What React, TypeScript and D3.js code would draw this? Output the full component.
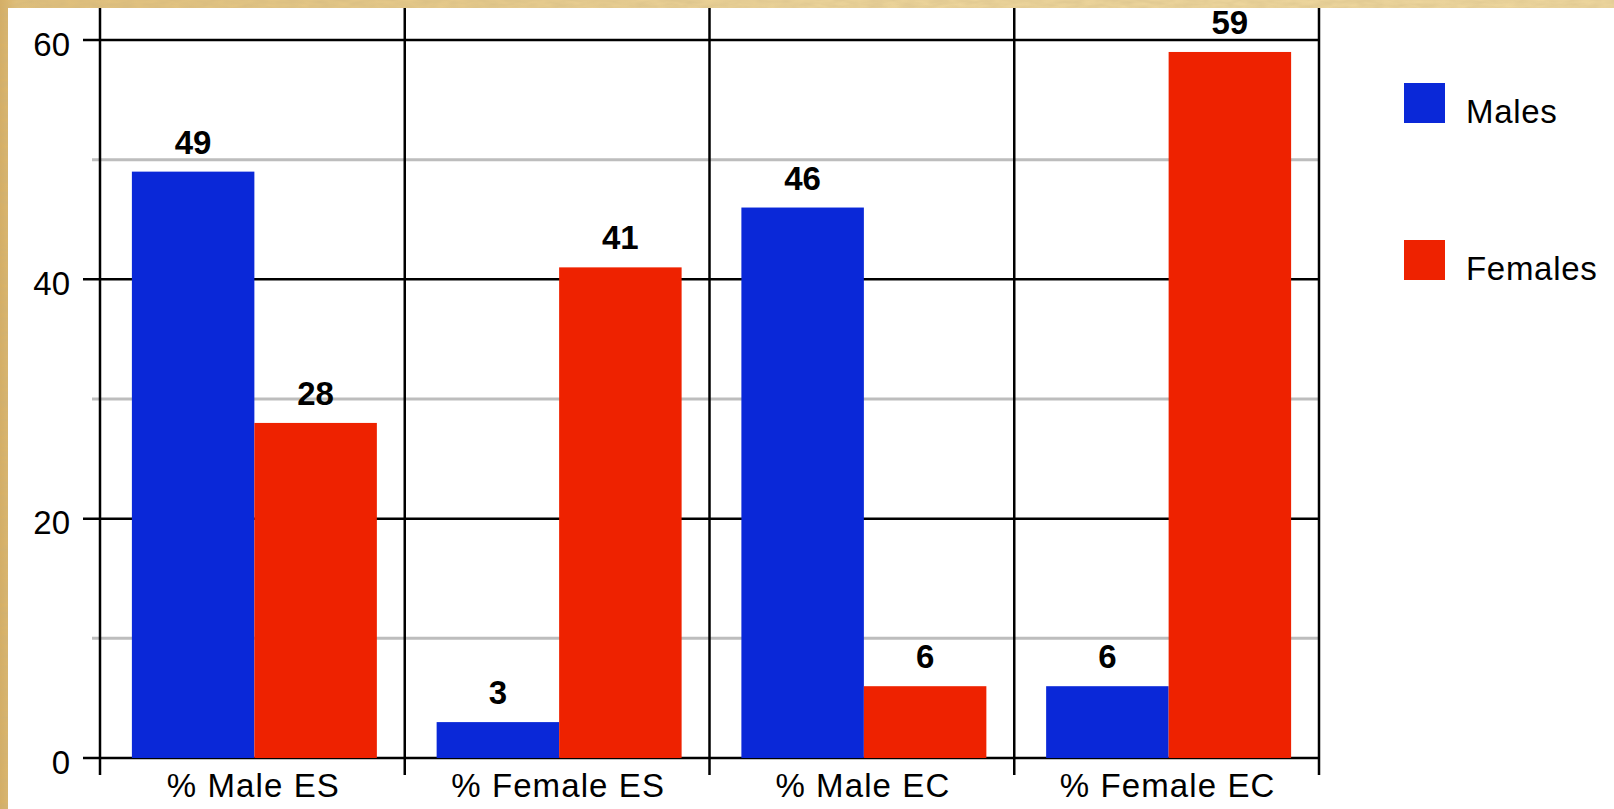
import React from "react";
import * as d3 from "d3";

// Survey percentages per category, split by respondent sex
const categories = ["% Male ES", "% Female ES", "% Male EC", "% Female EC"];
const seriesNames = ["Males", "Females"];
const malesValues = [49, 3, 46, 6];
const femalesValues = [28, 41, 6, 59];
const majorTicks = [0, 20, 40, 60];
const minorTicks = [10, 30, 50];

const W = 1614;
const H = 809;
const FONT = "'Liberation Sans', Arial, Helvetica, sans-serif";
const COLORS: Record<string, string> = { Males: "#0a28d8", Females: "#ee2200" };

export default function App() {
  const x = d3.scaleBand<string>().domain(categories).range([100, 1319]).padding(0);
  const inner = d3
    .scaleBand<string>()
    .domain(seriesNames)
    .range([0, x.bandwidth()])
    .paddingInner(0)
    .paddingOuter(0.244);
  const y = d3.scaleLinear().domain([0, 60]).range([758, 40]);

  const valuesBySeries: Record<string, number[]> = {
    Males: malesValues,
    Females: femalesValues,
  };

  const bars = categories.flatMap((c, i) =>
    seriesNames.map((s) => ({ cat: c, series: s, value: valuesBySeries[s][i] }))
  );

  const top = 8;
  const axisBottom = 775;
  const plotRight = 1319;
  const groupShift = 2; // bar groups sit slightly right of the band centre

  return (
    <>
      <style>{`html,body{margin:0;padding:0;overflow:hidden;}`}</style>
      <svg width={W} height={H} style={{ display: "block" }}>
        <defs>
          <linearGradient id="parch" x1="0" y1="0" x2="1" y2="0">
            <stop offset="0" stopColor="#d6ae62" />
            <stop offset="0.01" stopColor="#e0bf7a" />
            <stop offset="0.5" stopColor="#ecd49a" />
            <stop offset="1" stopColor="#eed79e" />
          </linearGradient>
          <filter id="grain" x="0" y="0" width="100%" height="100%">
            <feTurbulence type="fractalNoise" baseFrequency="0.06 0.25" numOctaves="3" seed="4" result="n" />
            <feColorMatrix
              in="n"
              type="matrix"
              values="0 0 0 0 0.55  0 0 0 0 0.42  0 0 0 0 0.2  0 0 0 0.45 -0.05"
              result="tint"
            />
            <feComposite in="tint" in2="SourceGraphic" operator="atop" />
          </filter>
        </defs>

        {/* parchment backdrop */}
        <rect x={0} y={0} width={W} height={H} fill="url(#parch)" filter="url(#grain)" />
        {/* white chart sheet */}
        <rect x={top} y={top} width={W} height={H} fill="#ffffff" />

        {/* minor gridlines */}
        {minorTicks.map((t) => (
          <line
            key={"mi" + t}
            x1={92}
            x2={plotRight}
            y1={y(t)}
            y2={y(t)}
            stroke="#bdbdbd"
            strokeWidth={3}
          />
        ))}
        {/* major gridlines */}
        {majorTicks.map((t) => (
          <line
            key={"ma" + t}
            x1={83}
            x2={plotRight}
            y1={y(t)}
            y2={y(t)}
            stroke="#000"
            strokeWidth={2.5}
          />
        ))}

        {/* category separators */}
        {[...categories.map((c) => x(c) as number), plotRight].map((px, i) => (
          <line key={"sep" + i} x1={px} x2={px} y1={top} y2={axisBottom} stroke="#000" strokeWidth={2.5} />
        ))}

        {/* bars */}
        {bars.map((b) => {
          const bx = (x(b.cat) as number) + (inner(b.series) as number) + groupShift;
          return (
            <rect
              key={b.cat + b.series}
              x={bx}
              y={y(b.value)}
              width={inner.bandwidth()}
              height={y(0) - y(b.value)}
              fill={COLORS[b.series]}
            />
          );
        })}

        {/* value labels */}
        {bars.map((b) => {
          const cx =
            (x(b.cat) as number) + (inner(b.series) as number) + inner.bandwidth() / 2 + groupShift;
          return (
            <text
              key={"v" + b.cat + b.series}
              x={cx}
              y={y(b.value) - 18}
              textAnchor="middle"
              fontFamily={FONT}
              fontWeight="bold"
              fontSize={33}
              fill="#000"
            >
              {b.value}
            </text>
          );
        })}

        {/* y-axis labels */}
        {majorTicks.map((t) => (
          <text
            key={"yl" + t}
            x={70}
            y={y(t) + 15.5}
            textAnchor="end"
            fontFamily={FONT}
            fontSize={33}
            fill="#000"
          >
            {t}
          </text>
        ))}

        {/* x-axis labels */}
        {categories.map((c) => (
          <text
            key={"xl" + c}
            x={(x(c) as number) + x.bandwidth() / 2 + 1}
            y={797}
            textAnchor="middle"
            fontFamily={FONT}
            fontSize={33}
            letterSpacing={1.1}
            fill="#000"
          >
            {c}
          </text>
        ))}

        {/* legend */}
        {seriesNames.map((s, i) => (
          <g key={"lg" + s} transform={`translate(1404, ${83 + i * 157})`}>
            <rect x={0} y={0} width={41} height={40} fill={COLORS[s]} />
            <text x={62} y={39.5} fontFamily={FONT} fontSize={33} letterSpacing={0.7} fill="#000">
              {s}
            </text>
          </g>
        ))}
      </svg>
    </>
  );
}
